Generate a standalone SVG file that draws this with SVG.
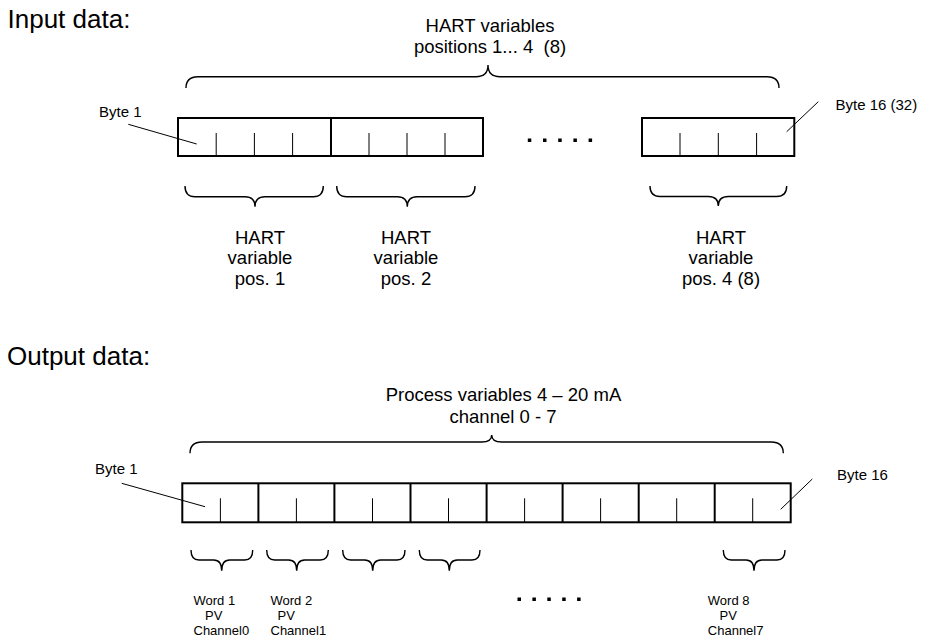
<svg xmlns="http://www.w3.org/2000/svg" width="925" height="640" viewBox="0 0 925 640">
  <style>
    text { font-family: "Liberation Sans", Arial, sans-serif; fill: #000; }
    .h { font-size: 26px; }
    .m { font-size: 18.5px; text-anchor: middle; }
    .s { font-size: 15px; }
    .w { font-size: 13px; }
    .box { fill: #fff; stroke: #000; stroke-width: 2; }
    .div { stroke: #000; stroke-width: 2; }
    .tick { stroke: #000; stroke-width: 1; }
    .brace { fill: none; stroke: #000; stroke-width: 1.4; }
    .lead { stroke: #000; stroke-width: 1; }
    .dot { fill: #000; }
  </style>
  <rect width="925" height="640" fill="#fff"/>

  <!-- Input section -->
  <g id="input-title"><text class="h" x="7.5" y="28.3">Input data:</text></g>

  <g id="input-header">
    <text class="m" x="490" y="31.7">HART variables</text>
    <text class="m" x="490" y="52.7" style="white-space:pre">positions 1... 4  (8)</text>
    <path class="brace" d="M186,88 Q186,76.7 198,76.7 L476,76.7 Q488,76.7 488,65 Q488,76.7 500,76.7 L767,76.7 Q779,76.7 779,88"/>
  </g>

  <g id="input-box-1">
    <rect class="box" x="178" y="118" width="153" height="38"/>
    <line class="tick" x1="216.2" y1="133" x2="216.2" y2="156"/>
    <line class="tick" x1="254.4" y1="133" x2="254.4" y2="156"/>
    <line class="tick" x1="292.6" y1="133" x2="292.6" y2="156"/>
  </g>
  <g id="input-box-2">
    <rect class="box" x="331" y="118" width="152" height="38"/>
    <line class="tick" x1="369" y1="133" x2="369" y2="156"/>
    <line class="tick" x1="407" y1="133" x2="407" y2="156"/>
    <line class="tick" x1="445" y1="133" x2="445" y2="156"/>
  </g>
  <g id="input-dots">
    <rect class="dot" x="527.8" y="138.5" width="3.5" height="3.5"/>
    <rect class="dot" x="543" y="138.5" width="3.5" height="3.5"/>
    <rect class="dot" x="558.2" y="138.5" width="3.5" height="3.5"/>
    <rect class="dot" x="573.4" y="138.5" width="3.5" height="3.5"/>
    <rect class="dot" x="588.6" y="138.5" width="3.5" height="3.5"/>
  </g>
  <g id="input-box-3">
    <rect class="box" x="642" y="118" width="152.3" height="38"/>
    <line class="tick" x1="680" y1="133" x2="680" y2="156"/>
    <line class="tick" x1="718.3" y1="133" x2="718.3" y2="156"/>
    <line class="tick" x1="756.6" y1="133" x2="756.6" y2="156"/>
  </g>

  <g id="input-byte1"><text class="s" x="99" y="116.7">Byte 1</text></g>
  <g id="input-byte16"><text class="s" x="835.5" y="110">Byte 16 (32)</text></g>

  <g id="hart-pos-1">
    <path class="brace" d="M185,186 Q185,196.7 195,196.7 L245,196.7 Q255,196.7 255,206.7 Q255,196.7 265,196.7 L313.3,196.7 Q323.3,196.7 323.3,186"/>
    <text class="m" x="260" y="244">HART</text>
    <text class="m" x="260" y="264.3">variable</text>
    <text class="m" x="260" y="284.5">pos. 1</text>
  </g>
  <g id="hart-pos-2">
    <path class="brace" d="M336.7,186 Q336.7,196.7 346.7,196.7 L397.3,196.7 Q407.3,196.7 407.3,206.7 Q407.3,196.7 417.3,196.7 L465,196.7 Q475,196.7 475,186"/>
    <text class="m" x="406" y="244">HART</text>
    <text class="m" x="406" y="264.3">variable</text>
    <text class="m" x="406" y="284.5">pos. 2</text>
  </g>
  <g id="hart-pos-4">
    <path class="brace" d="M650,186 Q650,196.5 660,196.5 L708.3,196.5 Q718.3,196.5 718.3,206 Q718.3,196.5 728.3,196.5 L776.7,196.5 Q786.7,196.5 786.7,186"/>
    <text class="m" x="721" y="244">HART</text>
    <text class="m" x="721" y="264.3">variable</text>
    <text class="m" x="721" y="284.5">pos. 4 (8)</text>
  </g>

  <!-- Output section -->
  <g id="output-title"><text class="h" x="7" y="365">Output data:</text></g>

  <g id="output-header">
    <text class="m" x="503.5" y="401">Process variables 4 – 20 mA</text>
    <text class="m" x="503" y="423">channel 0 - 7</text>
    <path class="brace" d="M190,453.3 Q190,442 202,442 L481.7,442 Q491.7,442 491.7,435 Q491.7,442 501.7,442 L771.3,442 Q783.3,442 783.3,453.3"/>
  </g>

  <g id="output-register">
    <rect class="box" x="182.3" y="483.3" width="608.4" height="39"/>
    <line class="div" x1="258.4" y1="483.3" x2="258.4" y2="522.3"/>
    <line class="div" x1="334.4" y1="483.3" x2="334.4" y2="522.3"/>
    <line class="div" x1="410.5" y1="483.3" x2="410.5" y2="522.3"/>
    <line class="div" x1="486.6" y1="483.3" x2="486.6" y2="522.3"/>
    <line class="div" x1="562.6" y1="483.3" x2="562.6" y2="522.3"/>
    <line class="div" x1="638.7" y1="483.3" x2="638.7" y2="522.3"/>
    <line class="div" x1="714.7" y1="483.3" x2="714.7" y2="522.3"/>
    <line class="tick" x1="220.4" y1="498.3" x2="220.4" y2="522.3"/>
    <line class="tick" x1="296.4" y1="498.3" x2="296.4" y2="522.3"/>
    <line class="tick" x1="372.5" y1="498.3" x2="372.5" y2="522.3"/>
    <line class="tick" x1="448.5" y1="498.3" x2="448.5" y2="522.3"/>
    <line class="tick" x1="524.6" y1="498.3" x2="524.6" y2="522.3"/>
    <line class="tick" x1="600.6" y1="498.3" x2="600.6" y2="522.3"/>
    <line class="tick" x1="676.7" y1="498.3" x2="676.7" y2="522.3"/>
    <line class="tick" x1="752.7" y1="498.3" x2="752.7" y2="522.3"/>
  </g>

  <g id="output-byte1"><text class="s" x="95" y="474">Byte 1</text></g>
  <g id="output-byte16"><text class="s" x="837" y="480">Byte 16</text></g>

  <g id="word-1">
    <path class="brace" d="M191,550 Q191,560 199,560 L213.7,560 Q221.7,560 221.7,570.7 Q221.7,560 229.7,560 L244.7,560 Q252.7,560 252.7,550"/>
    <text class="w" x="193.5" y="605">Word 1</text>
    <text class="w" x="205" y="620">PV</text>
    <text class="w" x="193.5" y="635">Channel0</text>
  </g>
  <g id="word-2">
    <path class="brace" d="M266.7,550 Q266.7,560 274.7,560 L288.7,560 Q296.7,560 296.7,570.7 Q296.7,560 304.7,560 L320.3,560 Q328.3,560 328.3,550"/>
    <text class="w" x="270.5" y="605">Word 2</text>
    <text class="w" x="277.5" y="620">PV</text>
    <text class="w" x="270.5" y="635">Channel1</text>
  </g>
  <g id="word-3">
    <path class="brace" d="M342.7,550 Q342.7,560 350.7,560 L364.7,560 Q372.7,560 372.7,570.7 Q372.7,560 380.7,560 L397,560 Q405,560 405,550"/>
  </g>
  <g id="word-4">
    <path class="brace" d="M419.3,550 Q419.3,560 427.3,560 L441.3,560 Q449.3,560 449.3,570.7 Q449.3,560 457.3,560 L472,560 Q480,560 480,550"/>
  </g>
  <g id="output-dots">
    <rect class="dot" x="517.5" y="597.5" width="3.5" height="3.5"/>
    <rect class="dot" x="532.4" y="597.5" width="3.5" height="3.5"/>
    <rect class="dot" x="547.3" y="597.5" width="3.5" height="3.5"/>
    <rect class="dot" x="562.2" y="597.5" width="3.5" height="3.5"/>
    <rect class="dot" x="577.1" y="597.5" width="3.5" height="3.5"/>
  </g>
  <g id="word-8">
    <path class="brace" d="M723.3,550 Q723.3,560 731.3,560 L746,560 Q754,560 754,570.7 Q754,560 762,560 L777,560 Q785,560 785,550"/>
    <text class="w" x="707.8" y="605">Word 8</text>
    <text class="w" x="719.5" y="620">PV</text>
    <text class="w" x="707.8" y="635">Channel7</text>
  </g>

  <!-- Connectors: label leader lines -->
  <g id="connectors">
    <line class="lead" x1="128.3" y1="124.3" x2="196.7" y2="144"/>
    <line class="lead" x1="818.3" y1="101.7" x2="786.7" y2="131.7"/>
    <line class="lead" x1="121.7" y1="483.3" x2="205" y2="506.7"/>
    <line class="lead" x1="812.3" y1="479" x2="780.7" y2="509.3"/>
  </g>
</svg>
